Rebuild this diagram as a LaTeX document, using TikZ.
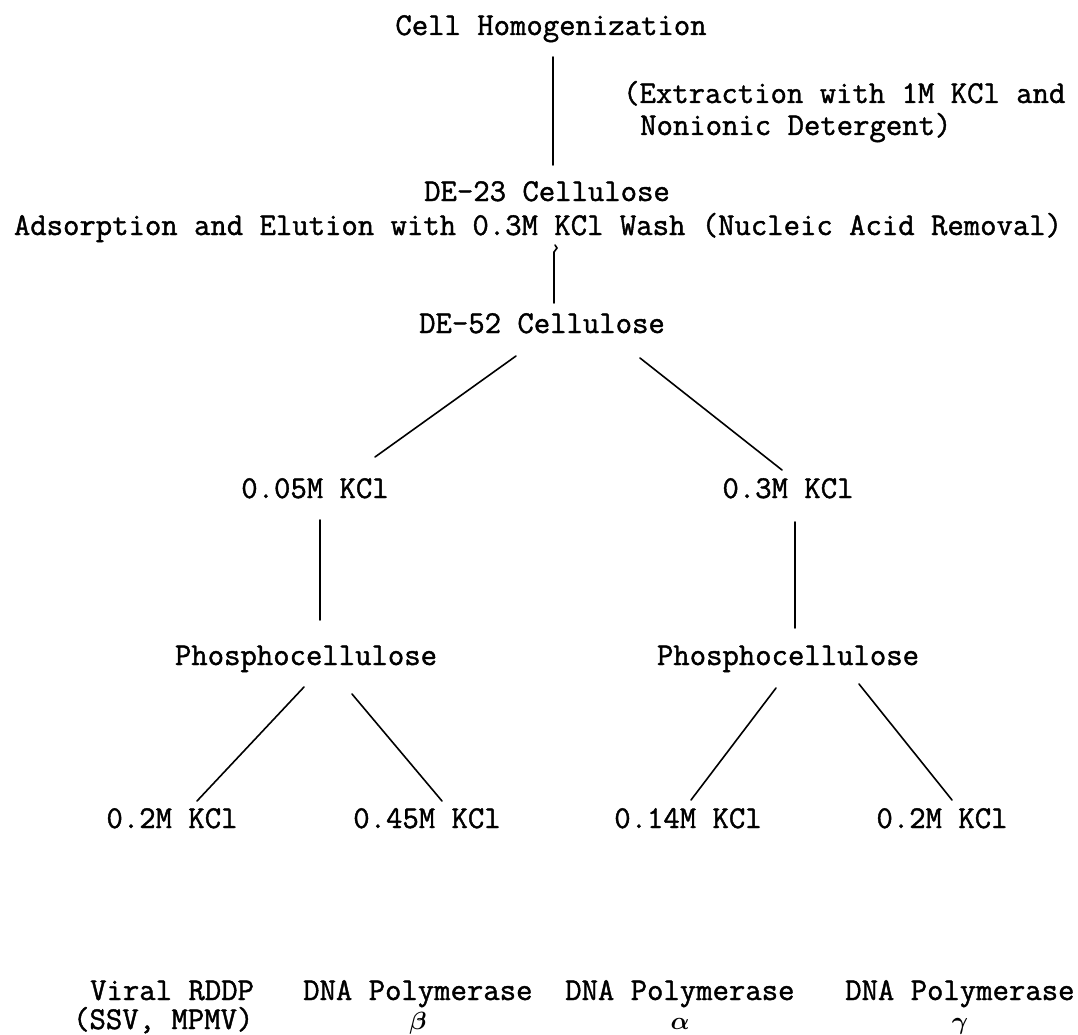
\documentclass[tikz,border=0pt]{standalone}
\usepackage{fontspec}
\usepackage{bm}
\setmonofont{Latin Modern Mono}[FakeBold=1.3]
\begin{document}
\begin{tikzpicture}[x=1pt,y=-1pt,
  lbl/.style={font=\ttfamily\fontsize{31.8}{36}\selectfont, inner sep=0pt, anchor=base},
  lblw/.style={lbl, anchor=base west},
  link/.style={line width=1.6pt, line cap=round}]
\useasboundingbox[fill=white] (0,0) rectangle (1078,1035);

% text nodes
\node[lbl]  (cell)  at (551,35)  {Cell Homogenization};
\node[lblw] (ext1)  at (623,103) {(Extraction with 1M KCl and};
\node[lblw] (ext2)  at (640,135) {Nonionic Detergent)};
\node[lbl]  (de23)  at (547,201) {DE-23 Cellulose};
\node[lbl]  (ads)   at (538,235) {Adsorption and Elution with 0.3M KCl Wash (Nucleic Acid Removal)};
\node[lbl]  (de52)  at (542,333) {DE-52 Cellulose};
\node[lbl]  (k005)  at (315,498) {0.05M KCl};
\node[lbl]  (k03)   at (788,498) {0.3M KCl};
\node[lbl]  (ph1)   at (306,665) {Phosphocellulose};
\node[lbl]  (ph2)   at (788,665) {Phosphocellulose};
\node[lbl]  (k02a)  at (172,828) {0.2M KCl};
\node[lbl]  (k045)  at (427,828) {0.45M KCl};
\node[lbl]  (k014)  at (688,828) {0.14M KCl};
\node[lbl]  (k02b)  at (942,828) {0.2M KCl};
\node[lblw] (viral) at (90,1000)  {Viral RDDP};
\node[lblw] (ssv)   at (73,1029)  {(SSV, MPMV)};
\node[lblw] (pol1)  at (303,1000) {DNA Polymerase};
\node[lbl]  (beta)  at (418,1029) {$\bm{\beta}$};
\node[lblw] (pol2)  at (565,1000) {DNA Polymerase};
\node[lbl]  (alpha) at (680,1029) {$\bm{\alpha}$};
\node[lblw] (pol3)  at (845,1000) {DNA Polymerase};
\node[lbl]  (gamma) at (960,1029) {$\bm{\gamma}$};

% connectors
\draw[link] ([shift={(2,22)}]cell.base) -- ([shift={(6,-36)}]de23.base);
\draw[link] ([shift={(17,10)}]ads.base) -- ++(2,3) -- ++(-3,4) -- ([shift={(12,-30)}]de52.base);
\draw[link] ([shift={(-26,23)}]de52.base) -- ([shift={(60,-41)}]k005.base);
\draw[link] ([shift={(98,25)}]de52.base) -- ([shift={(-6,-28)}]k03.base);
\draw[link] ([shift={(5,22)}]k005.base) -- ([shift={(14,-45)}]ph1.base);
\draw[link] ([shift={(7,24)}]k03.base) -- ([shift={(7,-37)}]ph2.base);
\draw[link] ([shift={(-2,22)}]ph1.base) -- ([shift={(25,-27)}]k02a.base);
\draw[link] ([shift={(46,29)}]ph1.base) -- ([shift={(15,-27)}]k045.base);
\draw[link] ([shift={(-12,23)}]ph2.base) -- ([shift={(3,-28)}]k014.base);
\draw[link] ([shift={(71,19)}]ph2.base) -- ([shift={(10,-28)}]k02b.base);
\end{tikzpicture}
\end{document}
